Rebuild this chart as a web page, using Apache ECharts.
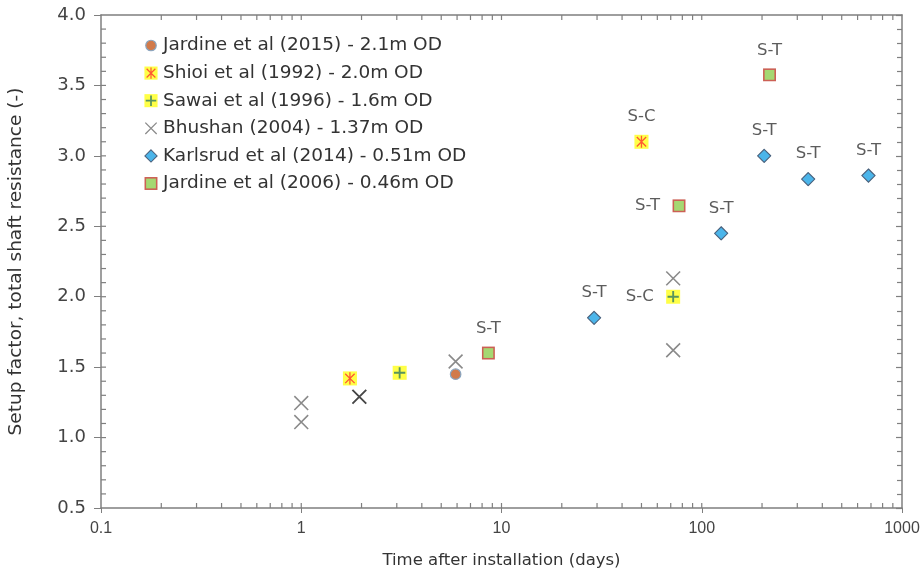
<!DOCTYPE html>
<html><head><meta charset="utf-8">
<script src="https://cdn.jsdelivr.net/npm/echarts@6/dist/echarts.min.js"></script>
<style>html,body{margin:0;padding:0;background:#fff}#c{width:920px;height:578px}</style>
</head><body><div id="c"></div>
<script>
// ---- data ----
const seriesNames = [
  'Jardine et al (2015) - 2.1m OD',
  'Shioi et al (1992) - 2.0m OD',
  'Sawai et al (1996) - 1.6m OD',
  'Bhushan (2004) - 1.37m OD',
  'Karlsrud et al (2014) - 0.51m OD',
  'Jardine et al (2006) - 0.46m OD'
];
const jardine2015 = [[5.9, 1.45]];
const shioi1992 = [[1.75, 1.42], [50, 3.10]];
const shioiLabels = ['', 'S-C'];
const sawai1996 = [[3.1, 1.46], [72, 2.00]];
const sawaiLabels = ['', 'S-C'];
const bhushan2004 = [[1.0, 1.245], [1.0, 1.11], [1.95, 1.29], [5.9, 1.54], [72, 2.13], [72, 1.62]];
const karlsrud2014 = [[29, 1.85], [125, 2.45], [205, 3.00], [340, 2.835], [680, 2.86]];
const karlsrudLabels = ['S-T', 'S-T', 'S-T', 'S-T', 'S-T'];
const jardine2006 = [[8.6, 1.60], [77, 2.645], [218, 3.575]];
const jardine2006Labels = ['S-T', 'S-T', 'S-T'];
const xTickLabels = ['0.1', '1', '10', '100', '1000'];
const xInnerTicks = [0.2,0.3,0.4,0.5,0.6,0.7,0.8,0.9,1,2,3,4,5,6,7,8,9,10,20,30,40,50,60,70,80,90,100,200,300,400,500,600,700,800,900];
const yInnerTicks = [0.6,0.7,0.8,0.9,1.0,1.1,1.2,1.3,1.4,1.5,1.6,1.7,1.8,1.9,2.0,2.1,2.2,2.3,2.4,2.5,2.6,2.7,2.8,2.9,3.0,3.1,3.2,3.3,3.4,3.5,3.6,3.7,3.8,3.9];
const xTitle = 'Time after installation (days)';
const yTitle = 'Setup factor, total shaft resistance (-)';

// ---- styles ----
const FONT = 'DejaVu Sans';
const AX = '#7f7f7f';
const svg = s => 'image://data:image/svg+xml;utf8,' + encodeURIComponent('<svg xmlns="http://www.w3.org/2000/svg" width="16" height="16" viewBox="0 0 16 16">' + s + '</svg>');
const symCircle = svg('<circle cx="8" cy="8" r="6" fill="#c65a1e" stroke="#6d8fb0" stroke-width="1.4"/>');
const symShioi = svg('<rect x="0.5" y="0.5" width="15" height="15" fill="#ffff1a"/><path d="M8 1.5V14.5M3 3L13 13M13 3L3 13" stroke="#ff3000" stroke-width="1.4"/>');
const symSawai = svg('<rect x="0.5" y="0.5" width="15" height="15" fill="#ffff1a"/><path d="M8 2V14M2 8H14" stroke="#2f7a36" stroke-width="2"/>');
const symX = svg('<path d="M1.5 1.5L14.5 14.5M14.5 1.5L1.5 14.5" stroke="#6e6e6e" stroke-width="1.5"/>');
const symXDark = svg('<path d="M1.5 1.5L14.5 14.5M14.5 1.5L1.5 14.5" stroke="#1a1a1a" stroke-width="1.8"/>');
const symDiamond = svg('<polygon points="8,1 15,8 8,15 1,8" fill="#1fa3e6" stroke="#1d3a5c" stroke-width="1.2"/>');
const symSquare = svg('<rect x="1.5" y="1.5" width="13" height="13" fill="#8fcf4f" stroke="#c0392b" stroke-width="1.8"/>');

function withLabels(data, labels, placement) {
  return data.map((d, i) => {
    const item = { value: d };
    if (labels && labels[i]) {
      item.label = { show: true, formatter: labels[i], position: placement(i), distance: placement(i) === 'left' ? 12 : 9,
        fontFamily: FONT, fontSize: 16.5, color: '#333' };
    }
    return item;
  });
}

const chart = echarts.init(document.getElementById('c'), null, { renderer: 'canvas' });
const grid = { left: 101, right: 18, top: 15, bottom: 70, containLabel: false, outerBoundsMode: 'none' };
const yMin = 0.5, yMax = 4.0, xMin = 0.1, xMax = 1000;

const tickSeriesX = {
  type: 'custom', coordinateSystem: 'cartesian2d', xAxisIndex: 0, yAxisIndex: 0, silent: true, clip: false, z: 10,
  encode: { x: 0, y: 1 },
  data: xInnerTicks.map(v => [v, 1]),
  renderItem: function (p, api) {
    const v = api.value(0);
    const b = api.coord([v, yMin]), t = api.coord([v, yMax]);
    const st = { stroke: AX, lineWidth: 1.2, fill: null };
    return { type: 'group', children: [
      { type: 'line', shape: { x1: b[0], y1: b[1], x2: b[0], y2: b[1] - 5 }, style: st },
      { type: 'line', shape: { x1: t[0], y1: t[1], x2: t[0], y2: t[1] + 5 }, style: st }
    ] };
  }
};
const tickSeriesY = {
  type: 'custom', coordinateSystem: 'cartesian2d', xAxisIndex: 0, yAxisIndex: 0, silent: true, clip: false, z: 10,
  encode: { x: 0, y: 1 },
  data: yInnerTicks.map(v => [1, v]),
  renderItem: function (p, api) {
    const v = api.value(1);
    const l = api.coord([xMin, v]);
    return { type: 'line', shape: { x1: l[0], y1: l[1], x2: l[0] + 5, y2: l[1] }, style: { stroke: AX, lineWidth: 1.2, fill: null } };
  }
};

const option = {
  backgroundColor: '#fff',
  animation: false,
  grid,
  legend: {
    data: seriesNames, orient: 'vertical', left: 139, top: 31, itemGap: 8.6,
    itemWidth: 14, itemHeight: 14,
    textStyle: { fontFamily: FONT, fontSize: 18.5, color: '#333', lineHeight: 18 }
  },
  xAxis: [
    { type: 'log', logBase: 10, min: xMin, max: xMax, position: 'bottom',
      name: xTitle, nameLocation: 'middle', nameGap: 44,
      nameTextStyle: { fontFamily: FONT, fontSize: 16.5, color: '#333' },
      axisLine: { show: true, lineStyle: { color: AX, width: 1.5 } },
      axisTick: { show: true, inside: false, length: 5, lineStyle: { color: AX } },
      axisLabel: { fontFamily: 'Liberation Sans', fontSize: 16, color: '#444', margin: 13,
        formatter: v => { const i = Math.round(Math.log10(v)) + 1; return xTickLabels[i] !== undefined ? xTickLabels[i] : ''; } },
      splitLine: { show: false } },
    { type: 'log', logBase: 10, min: xMin, max: xMax, position: 'top',
      axisLine: { show: true, lineStyle: { color: AX, width: 1.5 } },
      axisTick: { show: false }, axisLabel: { show: false }, splitLine: { show: false } }
  ],
  yAxis: [
    { type: 'value', min: yMin, max: yMax, interval: 0.5, position: 'left',
      name: yTitle, nameLocation: 'middle', nameGap: 75,
      nameTextStyle: { fontFamily: FONT, fontSize: 18.5, color: '#333' },
      axisLine: { show: true, lineStyle: { color: AX, width: 1.5 } },
      axisTick: { show: true, inside: false, length: 7, lineStyle: { color: AX } },
      axisLabel: { fontFamily: FONT, fontSize: 18, color: '#444', margin: 15, formatter: v => v.toFixed(1) },
      splitLine: { show: false } },
    { type: 'value', min: yMin, max: yMax, interval: 0.5, position: 'right',
      axisLine: { show: true, lineStyle: { color: AX, width: 1.5 } },
      axisTick: { show: true, inside: true, length: 6, lineStyle: { color: AX, width: 1.2 } },
      minorTick: { show: true, splitNumber: 5, length: 5, lineStyle: { color: AX, width: 1.2 } },
      axisLabel: { show: false }, splitLine: { show: false } }
  ],
  series: [
    tickSeriesX, tickSeriesY,
    { name: seriesNames[0], type: 'scatter', symbol: symCircle, symbolSize: 14, z: 5, data: jardine2015 },
    { name: seriesNames[1], type: 'scatter', symbol: symShioi, symbolSize: 15, z: 5,
      data: withLabels(shioi1992, shioiLabels, () => 'top') },
    { name: seriesNames[2], type: 'scatter', symbol: symSawai, symbolSize: 15, z: 5,
      data: withLabels(sawai1996, sawaiLabels, () => 'left') },
    { name: seriesNames[3], type: 'scatter', symbol: symX, symbolSize: 17, z: 4,
      data: bhushan2004.map((d, i) => i === 2 ? { value: d, symbol: symXDark } : { value: d }) },
    { name: seriesNames[4], type: 'scatter', symbol: symDiamond, symbolSize: 15, z: 5,
      data: withLabels(karlsrud2014, karlsrudLabels, () => 'top') },
    { name: seriesNames[5], type: 'scatter', symbol: symSquare, symbolSize: 14, z: 5,
      data: withLabels(jardine2006, jardine2006Labels, i => i === 1 ? 'left' : 'top') }
  ]
};
chart.setOption(option);
</script>
</body></html>
